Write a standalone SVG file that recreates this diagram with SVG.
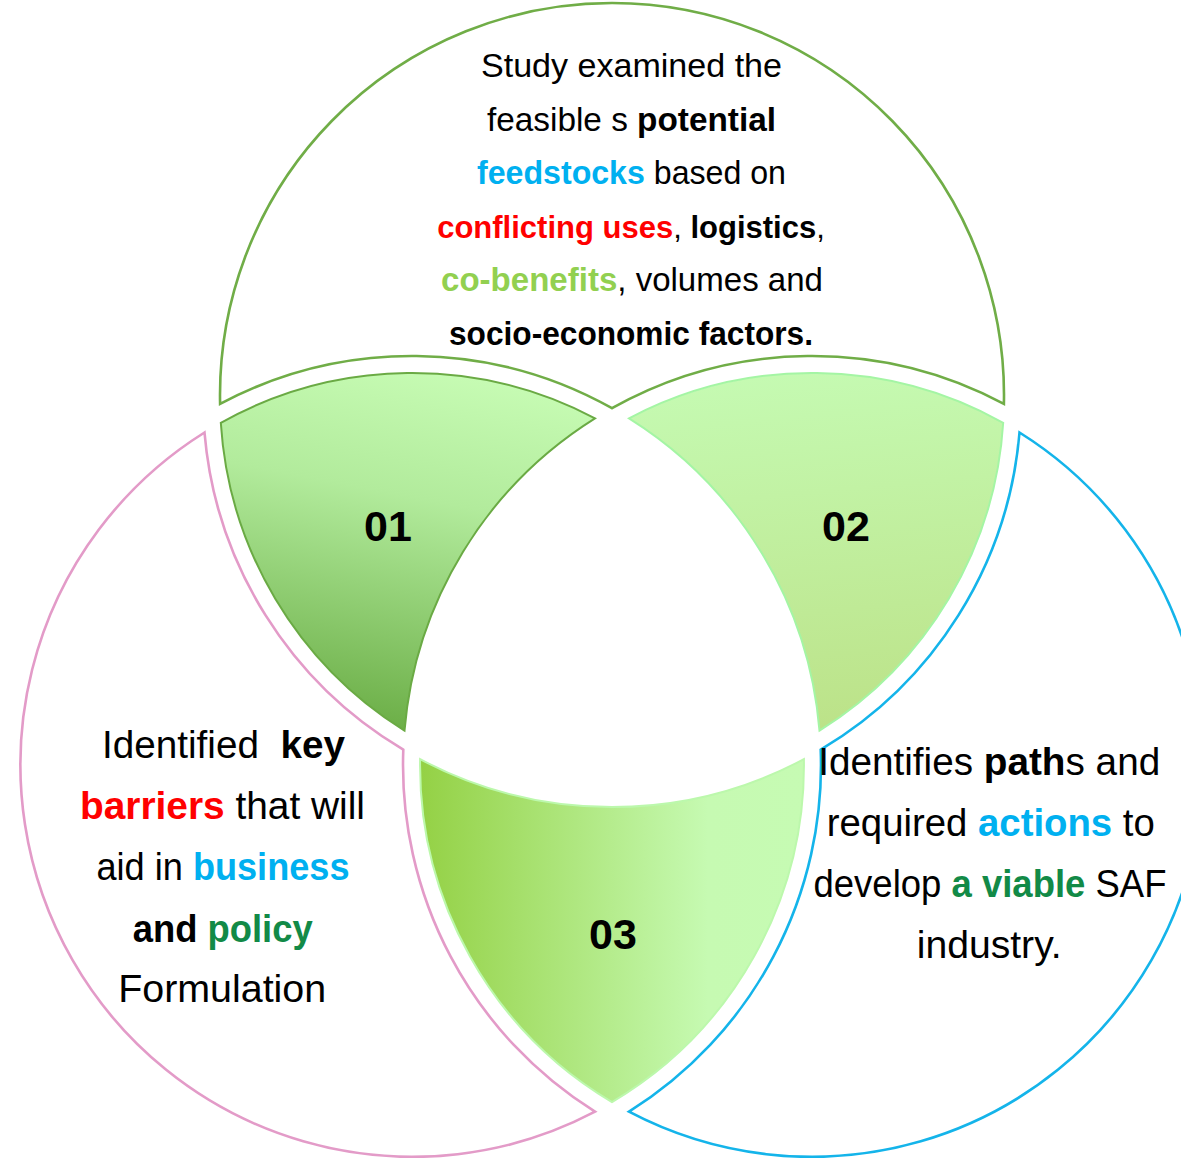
<svg xmlns="http://www.w3.org/2000/svg" width="1181" height="1158" viewBox="0 0 1181 1158">
  <defs>
    <linearGradient id="g01" x1="0.6" y1="0" x2="0.4" y2="1">
      <stop offset="0" stop-color="#C6FBB3"/>
      <stop offset="0.35" stop-color="#B2EB9C"/>
      <stop offset="1" stop-color="#6AAD45"/>
    </linearGradient>
    <linearGradient id="g02" x1="0.45" y1="0" x2="0.55" y2="1">
      <stop offset="0" stop-color="#C5FAB2"/>
      <stop offset="1" stop-color="#BCE288"/>
    </linearGradient>
    <linearGradient id="g03" x1="0" y1="0" x2="1" y2="0">
      <stop offset="0" stop-color="#94D145"/>
      <stop offset="0.75" stop-color="#C6FAB2"/>
      <stop offset="1" stop-color="#C6FBB3"/>
    </linearGradient>
    <style>
      .ring { fill: #FFFFFF; stroke-width: 2.6; stroke-linejoin: miter; }
      .seg { stroke-width: 2; stroke-linejoin: miter; }
      .num { font-family: "Liberation Sans", Arial, sans-serif; font-weight: bold; font-size: 43px; fill: #000000; text-anchor: middle; }
      .txt { font-family: "Liberation Sans", Arial, sans-serif; fill: #000000; text-anchor: middle; }
      .top { font-size: 34px; }
      .side { font-size: 38px; }
      .b { font-weight: bold; }
      .red { fill: #FF0000; font-weight: bold; }
      .blue { fill: #00B0F0; font-weight: bold; }
      .lime { fill: #92D050; font-weight: bold; }
      .green { fill: #128A47; font-weight: bold; }
    </style>
  </defs>

  <rect width="1181" height="1158" fill="#FFFFFF"/>

  <!-- outer ring pieces -->
  <g id="ring-top">
    <path class="ring" stroke="#70AD47" d="M 220.1,403.9 A 392 392 0 1 1 1003.9,403.9 A 409 409 0 0 0 612,408.2 A 409 409 0 0 0 220.1,403.9 Z"/>
    <text class="txt top" x="631.5" y="77" textLength="301" lengthAdjust="spacingAndGlyphs">Study examined the</text>
    <text class="txt top" x="631.5" y="130.5" textLength="289" lengthAdjust="spacingAndGlyphs">feasible s <tspan class="b">potential</tspan></text>
    <text class="txt top" x="631.5" y="184" textLength="309" lengthAdjust="spacingAndGlyphs"><tspan class="blue">feedstocks</tspan> based on</text>
    <text class="txt" font-size="31" x="631" y="237.5"><tspan class="red">conflicting uses</tspan>, <tspan class="b">logistics</tspan>,</text>
    <text class="txt top" x="632" y="291" textLength="382" lengthAdjust="spacingAndGlyphs"><tspan class="lime">co-benefits</tspan>, volumes and</text>
    <text class="txt top b" x="631" y="344.5" textLength="364" lengthAdjust="spacingAndGlyphs">socio-economic factors.</text>
  </g>

  <g id="ring-left">
    <path class="ring" stroke="#E39BC8" d="M 204.5,432.5 A 392 392 0 0 0 595,1111.7 A 409 409 0 0 1 403.3,749.7 A 409 409 0 0 1 204.5,432.5 Z"/>
    <text class="txt side" x="223.5" y="757.5" textLength="243" lengthAdjust="spacingAndGlyphs">Identified&#160; <tspan class="b">key</tspan></text>
    <text class="txt side" x="222.5" y="819" textLength="285" lengthAdjust="spacingAndGlyphs"><tspan class="red">barriers</tspan> that will</text>
    <text class="txt side" x="223" y="880" textLength="253" lengthAdjust="spacingAndGlyphs">aid in <tspan class="blue">business</tspan></text>
    <text class="txt side" x="222.7" y="941.5" textLength="180" lengthAdjust="spacingAndGlyphs"><tspan class="b">and</tspan> <tspan class="green">policy</tspan></text>
    <text class="txt side" x="222.2" y="1002" textLength="208" lengthAdjust="spacingAndGlyphs">Formulation</text>
  </g>

  <g id="ring-right">
    <path class="ring" stroke="#14B4EA" d="M 1019.5,432.5 A 392 392 0 0 1 629,1111.7 A 409 409 0 0 0 820.7,749.7 A 409 409 0 0 0 1019.5,432.5 Z"/>
    <text class="txt side" x="989.2" y="774.5" textLength="342" lengthAdjust="spacingAndGlyphs">Identifies <tspan class="b">path</tspan>s and</text>
    <text class="txt side" x="990.8" y="835.5" textLength="328" lengthAdjust="spacingAndGlyphs">required <tspan class="blue">actions</tspan> to</text>
    <text class="txt side" x="990" y="896.5" textLength="353" lengthAdjust="spacingAndGlyphs">develop <tspan class="green">a viable</tspan> SAF</text>
    <text class="txt side" x="989.2" y="958" textLength="145" lengthAdjust="spacingAndGlyphs">industry.</text>
  </g>

  <!-- overlap segments -->
  <g id="seg-01">
    <path class="seg" fill="url(#g01)" stroke="#6AAA44" d="M 220.8,422.8 A 392 392 0 0 1 595,418.3 A 409 409 0 0 0 404.5,730.6 A 392 392 0 0 1 220.8,422.8 Z"/>
    <text class="num" x="388" y="541">01</text>
  </g>

  <g id="seg-02">
    <path class="seg" fill="url(#g02)" stroke="#A4F5A4" d="M 1003.2,422.8 A 392 392 0 0 0 629,418.3 A 409 409 0 0 1 819.5,730.6 A 392 392 0 0 0 1003.2,422.8 Z"/>
    <text class="num" x="846" y="541">02</text>
  </g>

  <g id="seg-03">
    <path class="seg" fill="url(#g03)" stroke="#BCF8AC" d="M 420.1,759.2 A 409 409 0 0 0 803.9,759.2 A 392 392 0 0 1 612,1102.1 A 392 392 0 0 1 420.1,759.2 Z"/>
    <text class="num" x="613" y="949">03</text>
  </g>

  <!-- no connectors in this figure -->
  <g id="connectors"/>
</svg>
